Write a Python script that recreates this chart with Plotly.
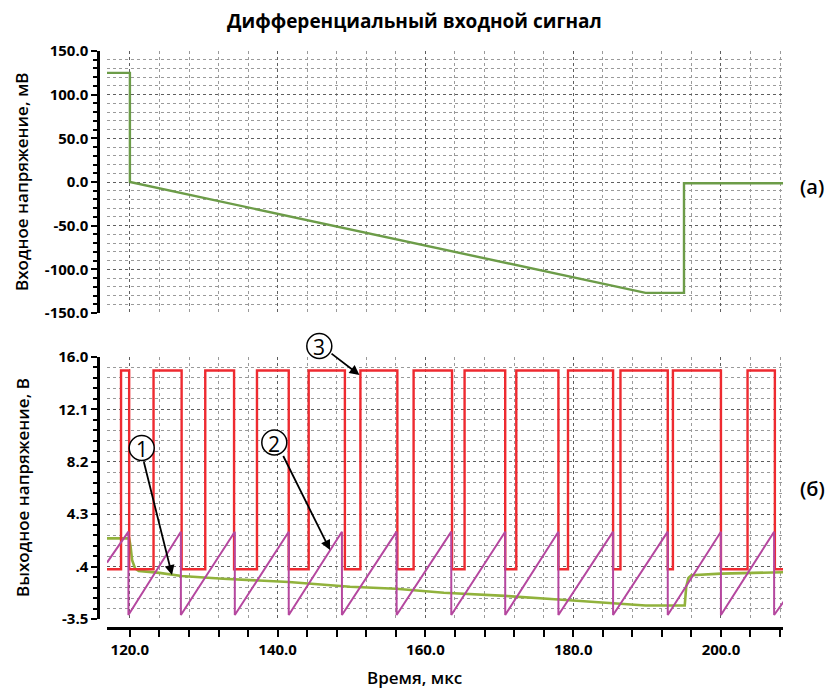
import plotly.graph_objects as go

# ---------------- data ----------------
# (a) differential input, mV
in_t = [116.9, 120.0, 120.0, 189.8, 195.0, 195.0, 208.5]
in_v = [125.0, 125.0, 0.0, -127.0, -127.0, -1.5, -1.5]

# (б) output 1 (green), V
out1_t = [116.9, 119.9, 120.1, 120.3, 120.7, 121.2, 124.0, 127.0, 132.6, 141.5,
          149.8, 156.0, 162.5, 170.8, 178.0, 185.4, 189.8, 195.1, 195.3, 195.6,
          196.0, 200.0, 208.5]
out1_v = [2.5, 2.5, 1.86, 0.87, 0.26, 0.08, -0.07, -0.3, -0.5, -0.75,
          -1.1, -1.25, -1.55, -1.78, -2.05, -2.35, -2.5, -2.5, -1.1, -0.45,
          -0.24, -0.12, -0.02]

# (б) output 2 (purple sawtooth), V
saw_t = [116.9, 119.8, 119.8, 126.9, 126.9, 134.2, 134.2, 141.5, 141.5, 148.7, 148.7,
         156.1, 156.1, 163.5, 163.5, 170.8, 170.8, 178.0, 178.0, 185.4, 185.4,
         192.8, 192.8, 200.0, 200.0, 207.2, 207.2, 208.5]
saw_v = [0.7, 3.0, -3.2, 3.0, -3.2, 3.0, -3.2, 3.0, -3.2, 3.0, -3.2,
         3.0, -3.2, 3.0, -3.2, 3.0, -3.2, 3.0, -3.2, 3.0, -3.2,
         3.0, -3.2, 3.0, -3.2, 3.0, -3.2, -2.2]

# (б) output 3 (red square wave), V  -- level held from each time until the next
sq_t = [116.9, 118.8, 119.9, 123.2, 127.0, 130.2, 134.1, 137.2, 141.5, 144.2, 149.1,
        151.2, 156.2, 158.4, 163.6, 165.3, 170.8, 172.3, 178.0, 179.3, 185.4,
        186.4, 192.8, 193.5, 200.0, 203.6, 207.3, 208.5]
sq_v = [0.2, 15.0, 0.2, 15.0, 0.2, 15.0, 0.2, 15.0, 0.2, 15.0, 0.2,
        15.0, 0.2, 15.0, 0.2, 15.0, 0.2, 15.0, 0.2, 15.0, 0.2,
        15.0, 0.2, 15.0, 0.2, 15.0, 0.2, 0.2]

x_tickvals = [120, 140, 160, 180, 200]
x_ticktext = ["120.0", "140.0", "160.0", "180.0", "200.0"]
top_tickvals = [150, 100, 50, 0, -50, -100, -150]
top_ticktext = ["150.0", "100.0", "50.0", "0.0", "-50.0", "-100.0", "-150.0"]
bot_tickvals = [16.0, 12.1, 8.2, 4.3, 0.4, -3.5]
bot_ticktext = ["16.0", "12.1", "8.2", "4.3", ".4", "-3.5"]

# ---------------- figure ----------------
W, H = 829, 688
ML, MR, MT, MB = 98, 46, 51, 60
PW, PH = W - ML - MR, H - MT - MB


def px(x):
    return (x - ML) / PW


def py(y):
    return (H - MB - y) / PH


FONT = "Open Sans"
MAJ_GRID = "#5e5e5e"
MIN_GRID = "#9a9a9a"

fig = go.Figure()
fig.add_trace(go.Scatter(x=in_t, y=in_v, mode="lines", xaxis="x", yaxis="y",
                         line=dict(color="#6c9c48", width=2.4), showlegend=False))
fig.add_trace(go.Scatter(x=out1_t, y=out1_v, mode="lines", xaxis="x2", yaxis="y2",
                         line=dict(color="#91b23c", width=2.6), showlegend=False))
fig.add_trace(go.Scatter(x=sq_t, y=sq_v, mode="lines", xaxis="x2", yaxis="y2",
                         line=dict(color="#ee2a30", width=2.4, shape="hv"), showlegend=False))
fig.add_trace(go.Scatter(x=saw_t, y=saw_v, mode="lines", xaxis="x2", yaxis="y2",
                         line=dict(color="#b5479f", width=2.0), showlegend=False))

xdom = [9 / PW, 1]
xr = [116.9, 208.4]
tickfont = dict(family=FONT, size=15, color="black", weight=700)

common_x = dict(range=xr, domain=xdom, showgrid=True, gridcolor=MAJ_GRID, griddash="dot",
                gridwidth=1.2, zeroline=False, tickvals=x_tickvals, ticktext=x_ticktext,
                tickfont=tickfont)

fig.update_layout(
    width=W, height=H,
    margin=dict(l=ML, r=MR, t=MT, b=MB),
    paper_bgcolor="white", plot_bgcolor="white",
    font=dict(family=FONT, color="black"),
    xaxis=dict(**common_x, anchor="y", showticklabels=False, ticks="", showline=False,
               minor=dict(dtick=4, tick0=120, showgrid=True, gridcolor=MIN_GRID,
                          griddash="dot", gridwidth=1, ticks="")),
    xaxis2=dict(**common_x, anchor="free", position=0, showline=True, linecolor="black",
                linewidth=2.5, ticks="outside", ticklen=7, tickwidth=2, tickcolor="black",
                minor=dict(dtick=4, tick0=120, showgrid=True, gridcolor=MIN_GRID,
                           griddash="dot", gridwidth=1, ticks="outside", ticklen=7,
                           tickwidth=2, tickcolor="black")),
    yaxis=dict(domain=[py(313), 1], range=[-150, 150], anchor="free", position=0,
               showline=True, linecolor="black", linewidth=2.5,
               tickvals=top_tickvals, ticktext=top_ticktext, tickfont=tickfont,
               ticks="outside", ticklen=6, tickwidth=2, tickcolor="black",
               showgrid=True, gridcolor=MAJ_GRID, griddash="dot", gridwidth=1.2, zeroline=False,
               minor=dict(dtick=10, tick0=-150, showgrid=True, gridcolor=MIN_GRID,
                          griddash="dot", gridwidth=1, ticks="outside", ticklen=4,
                          tickwidth=2, tickcolor="black")),
    yaxis2=dict(domain=[py(619), py(357)], range=[-3.5, 16.0], anchor="free", position=0,
                showline=True, linecolor="black", linewidth=2.5,
                tickvals=bot_tickvals, ticktext=bot_ticktext, tickfont=tickfont,
                ticks="outside", ticklen=6, tickwidth=2, tickcolor="black",
                showgrid=True, gridcolor=MAJ_GRID, griddash="dot", gridwidth=1.2, zeroline=False,
                minor=dict(dtick=0.78, tick0=-3.5, showgrid=True, gridcolor=MIN_GRID,
                           griddash="dot", gridwidth=1, ticks="outside", ticklen=4,
                           tickwidth=2, tickcolor="black")),
)


def label(text, x, y, size, weight=600, angle=0):
    return dict(text=text, xref="paper", yref="paper", x=px(x), y=py(y),
                xanchor="center", yanchor="middle", textangle=angle, showarrow=False,
                font=dict(family=FONT, size=size, weight=weight, color="black"))


ann = [
    label("Дифференциальный входной сигнал", 414, 21, 19, 700),
    label("Входное напряжение, мВ", 22, 182, 17, 600, -90),
    label("Выходное напряжение, В", 22, 488, 17, 600, -90),
    label("Время, мкс", 414, 677, 17, 600),
    label("(а)", 812, 186, 20, 600),
    label("(б)", 812, 488, 20, 600),
]

# callouts: circle centre, arrow tail, arrow tip (pixels)
callouts = [("1", (141.7, 448.0), (143.5, 460.5), (172.0, 575.0)),
            ("2", (274.3, 442.5), (282.5, 454.5), (330.0, 550.0)),
            ("3", (319.3, 346.0), (330.0, 352.5), (359.5, 375.0))]
shapes = []
for num, (cx, cy), (tx, ty), (hx, hy) in callouts:
    shapes.append(dict(type="circle", xref="paper", yref="paper",
                       xsizemode="pixel", ysizemode="pixel",
                       xanchor=px(cx), yanchor=py(cy), x0=-12.5, x1=12.5, y0=-12.5, y1=12.5,
                       line=dict(color="black", width=1.5), fillcolor="white", layer="above"))
    ann.append(label(num, cx, cy + 1, 21, 400))
    ann.append(dict(text="", xref="paper", yref="paper", x=px(hx), y=py(hy),
                    ax=tx - hx, ay=ty - hy, showarrow=True, arrowhead=2, arrowsize=1.1,
                    arrowwidth=1.8, arrowcolor="black", standoff=0))

fig.update_layout(annotations=ann, shapes=shapes)
fig.write_html("out.html")
